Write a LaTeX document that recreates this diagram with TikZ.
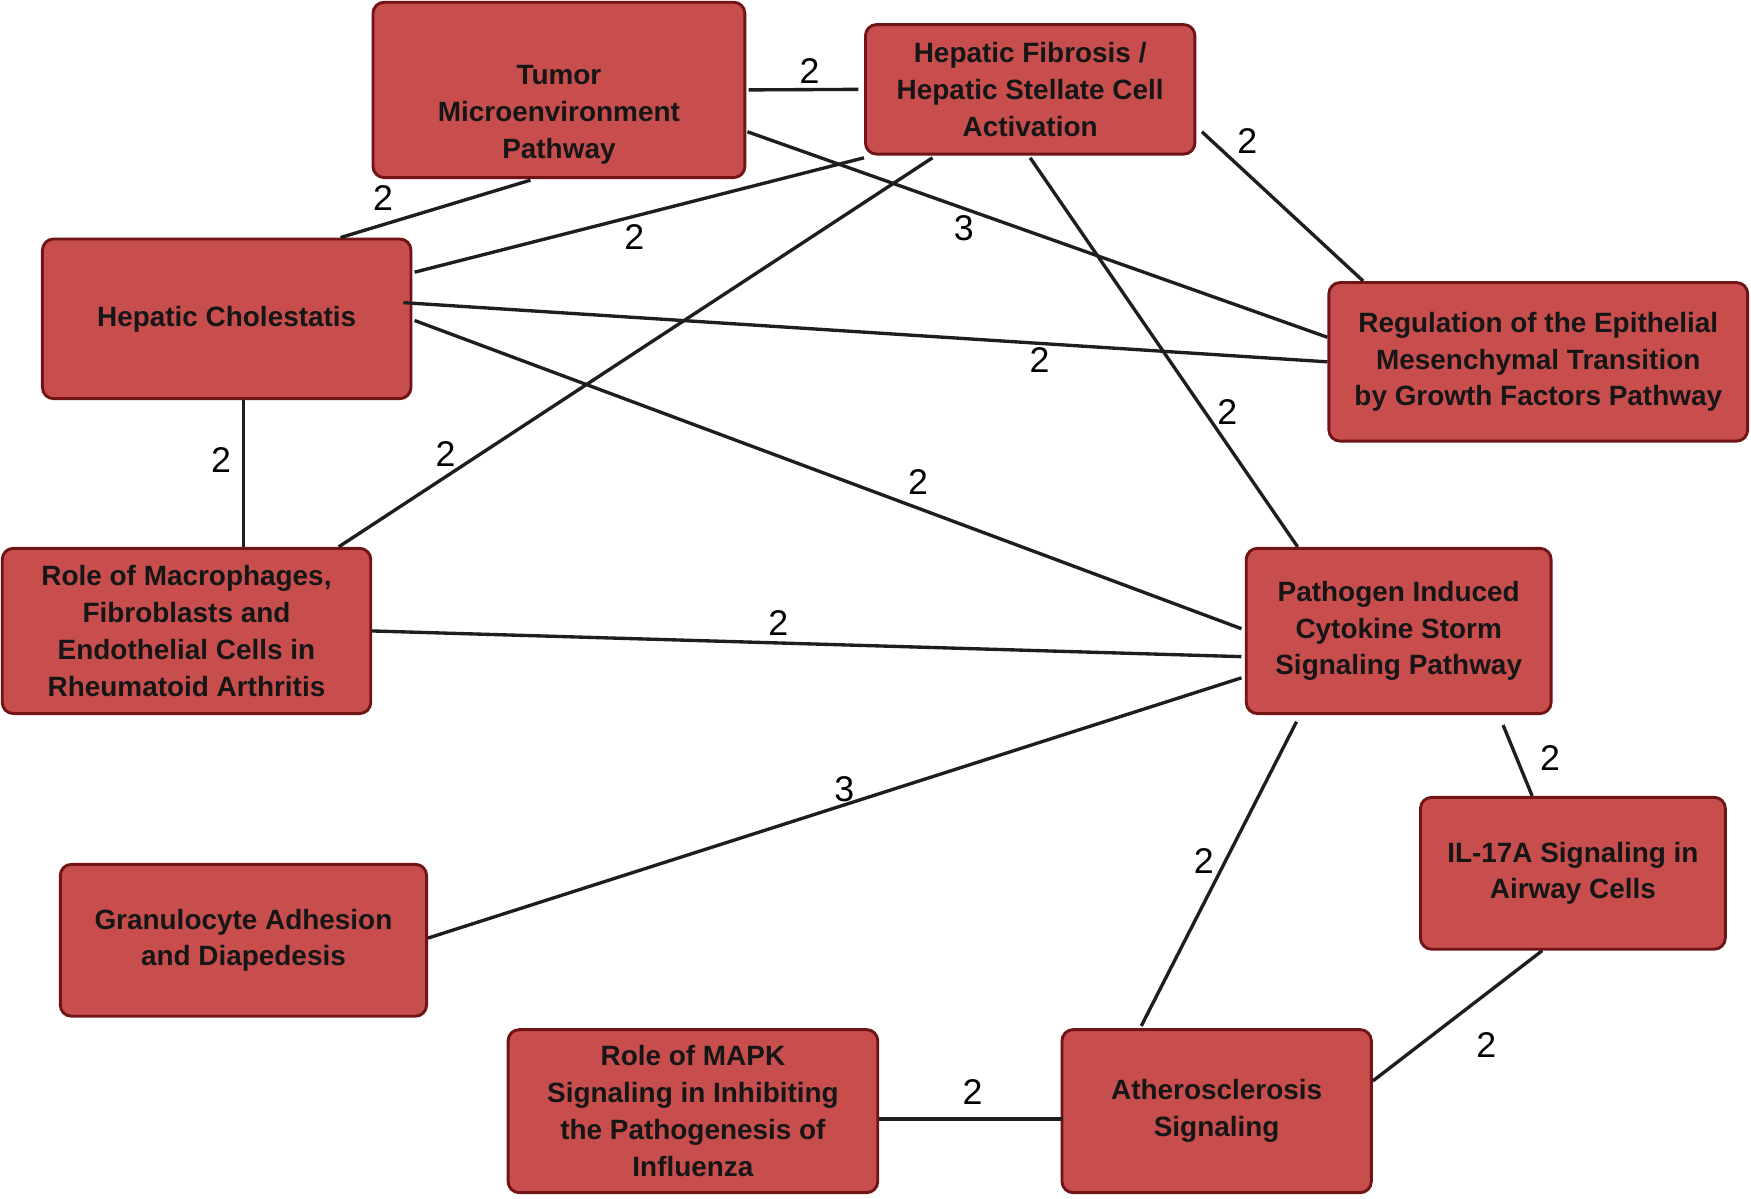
\documentclass[tikz,border=0pt]{standalone}
\usepackage{fontspec}
\setmainfont{Liberation Sans}
\usetikzlibrary{calc}
\definecolor{boxfill}{RGB}{200,78,78}
\definecolor{boxborder}{RGB}{112,20,22}
\definecolor{txtcol}{RGB}{22,22,22}
\definecolor{linecol}{RGB}{30,30,30}
\tikzset{
  box/.style={draw=boxborder, fill=boxfill, line width=1.3pt, rounded corners=5pt,
    align=center, text=txtcol, inner sep=0pt,
    font=\fontsize{12.5}{16.5}\selectfont\bfseries},
  boxtext/.style={align=center, text=txtcol, inner sep=0pt,
    font=\fontsize{12.5}{16.5}\selectfont\bfseries},
  link/.style={draw=linecol, line width=1.5pt},
  lbl/.style={inner sep=0pt, text=black, font=\fontsize{16}{19}\selectfont}
}
\begin{document}
\begin{tikzpicture}[x=0.5pt, y=-0.5pt]
\useasboundingbox (0,0) rectangle (1568,1073);
\fill[white] (0,0) rectangle (1568,1073);

% nodes
\node[box, minimum width=166.5pt, minimum height=78.5pt] (tumor) at (500.5,80.5) {};
\node[boxtext] (tumortext) at (500.5,103) {Tumor\\Microenvironment\\Pathway};
\node[box, minimum width=147.5pt, minimum height=58pt] (fib) at (922.5,80) {Hepatic Fibrosis /\\Hepatic Stellate Cell\\Activation};
\node[box, minimum width=165pt, minimum height=71.5pt] (chol) at (203,285.5) {Hepatic Cholestatis};
\node[box, minimum width=187.5pt, minimum height=71pt] (emt) at (1377.5,324) {Regulation of the Epithelial\\Mesenchymal Transition\\by Growth Factors Pathway};
\node[box, minimum width=165pt, minimum height=74pt] (macro) at (167,565) {Role of Macrophages,\\Fibroblasts and\\Endothelial Cells in\\Rheumatoid Arthritis};
\node[box, minimum width=136.5pt, minimum height=74pt] (path) at (1252.5,565) {Pathogen Induced\\Cytokine Storm\\Signaling Pathway};
\node[box, minimum width=136.5pt, minimum height=68pt] (il) at (1408.5,782) {IL-17A Signaling in\\Airway Cells};
\node[box, minimum width=164pt, minimum height=68pt] (gran) at (218,842) {Granulocyte Adhesion\\and Diapedesis};
\node[box, minimum width=165.5pt, minimum height=73pt] (mapk) at (620.5,995) {Role of MAPK\\Signaling in Inhibiting\\the Pathogenesis of\\Influenza};
\node[box, minimum width=138.5pt, minimum height=73pt] (ath) at (1089.5,995) {Atherosclerosis\\Signaling};

% connectors
\draw[link] ($(tumor.east)+(2,0)$) -- ($(fib.west)+(-5,0)$);
\draw[link] ($(tumor.south)+(-25.5,1)$) -- ($(chol.north)+(102,0)$);
\draw[link] ($(fib.south west)+(0,2)$) -- ($(chol.north east)+(2,31)$);
\draw[link] ($(tumor.east)+(1,37.5)$) -- ($(emt.west)+(0,-22)$);
\draw[link] ($(fib.east)+(5,38)$) -- ($(emt.north west)+(32,0)$);
\draw[link] ($(chol.east)+(-8,-14.5)$) -- (emt.west);
\draw[link] ($(chol.east)+(2,1.5)$) -- ($(path.west)+(-3,-2)$);
\draw[link] ($(fib.south)+(-87.5,2)$) -- ($(macro.north east)+(-30,0)$);
\draw[link] ($(fib.south)+(0,2)$) -- ($(path.north)+(-90.5,0)$);
\draw[link] ($(chol.south)+(15,0)$) -- ($(macro.north)+(51,0)$);
\draw[link] (macro.east) -- ($(path.west)+(-3,23)$);
\draw[link] ($(gran.east)+(0,-2)$) -- ($(path.west)+(-3,42)$);
\draw[link] ($(path.south)+(-91.5,6)$) -- ($(ath.north)+(-67.5,-2)$);
\draw[link] ($(path.south)+(93.5,9)$) -- ($(il.north)+(-36.5,0)$);
\draw[link] ($(il.south)+(-27.5,0)$) -- ($(ath.east)+(0,-27)$);
\draw[link] ($(mapk.east)+(0,7)$) -- ($(ath.west)+(2,7)$);

% labels
\node[lbl] (l1) at (725,64) {2};
\node[lbl] (l2) at (343,177) {2};
\node[lbl] (l3) at (568,212) {2};
\node[lbl] (l4) at (863,204) {3};
\node[lbl] (l5) at (1117,126) {2};
\node[lbl] (l6) at (931,322) {2};
\node[lbl] (l7) at (822,432) {2};
\node[lbl] (l8) at (399,407) {2};
\node[lbl] (l9) at (1099,369) {2};
\node[lbl] (l10) at (198,412) {2};
\node[lbl] (l11) at (697,558) {2};
\node[lbl] (l12) at (756,707) {3};
\node[lbl] (l13) at (1078,771) {2};
\node[lbl] (l14) at (1388,679) {2};
\node[lbl] (l15) at (1331,936) {2};
\node[lbl] (l16) at (871,978) {2};
\end{tikzpicture}
\end{document}
